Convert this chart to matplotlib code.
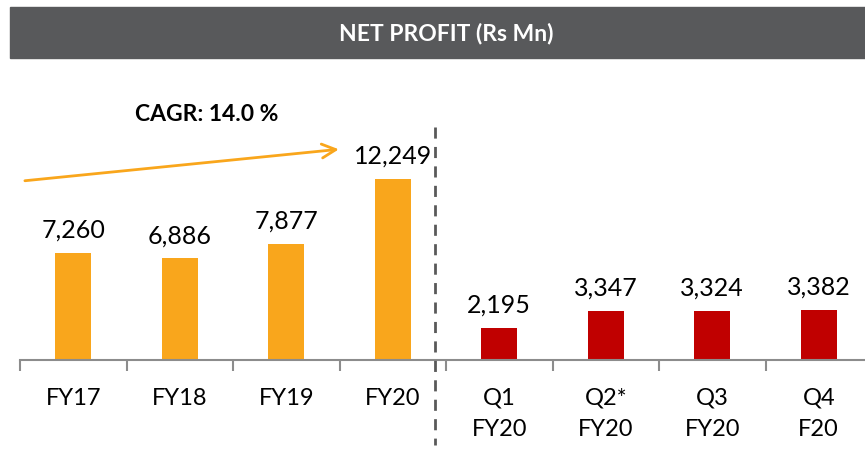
import matplotlib.pyplot as plt
from matplotlib.patches import Rectangle

# data
categories = ["FY17", "FY18", "FY19", "FY20", "Q1\nFY20", "Q2*\nFY20", "Q3\nFY20", "Q4\nF20"]
profit = [7260, 6886, 7877, 12249, 2195, 3347, 3324, 3382]
bar_colors = ["#F9A61C"] * 4 + ["#C00000"] * 4
cagr_text = "CAGR: 14.0 %"
title = "NET PROFIT (Rs Mn)"

plt.rcParams['font.family'] = ['Lato', 'DejaVu Sans']

fig = plt.figure(figsize=(8.65, 4.49), dpi=100)

# grey header band
fig.patches.append(Rectangle((10 / 865, 391 / 449), 1.0, 51 / 449,
                             transform=fig.transFigure, color="#58595B", zorder=0))
fig.text(0.516, 0.9265, title, color="white", fontsize=16.5, fontweight="bold",
         ha="center", va="center")

ax = fig.add_axes([20 / 865, 89 / 449, 852 / 865, 240 / 449])
x = list(range(len(categories)))
bars = ax.bar(x, profit, width=0.34, color=bar_colors, zorder=2)

ax.set_xlim(-0.5, len(categories) - 0.5)
ax.set_ylim(0, 16240)

for b, v in zip(bars, profit):
    ax.annotate(f"{v:,}", (b.get_x() + b.get_width() / 2, v), xytext=(0, 8),
                textcoords="offset points", ha="center", va="bottom", fontsize=18)

for s in ["top", "left", "right"]:
    ax.spines[s].set_visible(False)
ax.spines["bottom"].set_color("#8C8C8C")
ax.spines["bottom"].set_linewidth(1.5)
ax.set_yticks([])

ax.set_xticks(x)
ax.set_xticklabels(categories, fontsize=17, linespacing=1.6, va="top")
ax.tick_params(axis="x", which="major", length=0, pad=20)
ax.set_xticks([i - 0.5 for i in range(len(categories) + 1)], minor=True)
ax.tick_params(axis="x", which="minor", length=8, width=1.5, color="#8C8C8C")

# dashed divider between yearly and quarterly
ax.plot([3.4, 3.4], [15765, -5751], color="#595959", lw=2, ls=(0, (4, 3)),
        clip_on=False, zorder=3)

# CAGR arrow
ax.annotate("", xy=(2.52, 14276), xytext=(-0.48, 12111),
            arrowprops=dict(arrowstyle="->,head_length=1.0,head_width=0.5",
                            color="#F9A61C", lw=2),
            annotation_clip=False)
ax.text(1.25, 16600, cagr_text, fontsize=16.5, fontweight="bold", ha="center",
        va="center", clip_on=False)

fig.savefig("out.png", dpi=100)
